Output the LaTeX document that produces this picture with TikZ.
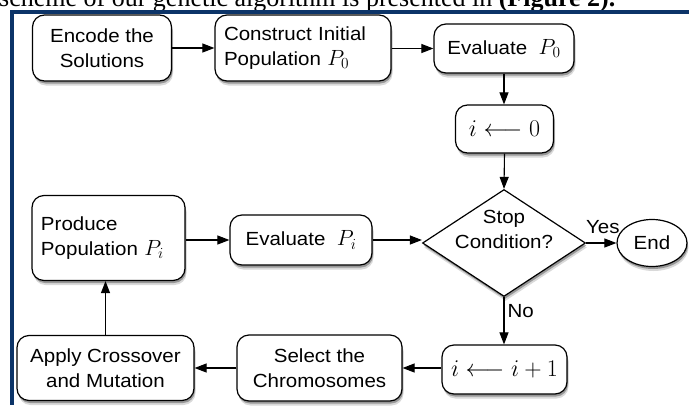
\RequirePackage{fix-cm}
\documentclass[tikz,border=0pt]{standalone}
\usepackage{fontspec}
\setmainfont[FakeStretch=1.08]{Liberation Sans}
\newfontfamily\serifx{Liberation Serif}
\usetikzlibrary{arrows.meta,shapes.geometric,shadows}
\definecolor{framblue}{RGB}{12,52,104}
\newcommand\bigmath[1]{{\fontsize{22}{25}\selectfont$#1$}}
\begin{document}
\begin{tikzpicture}[x=1pt,y=-1pt,
  nodefont/.style={font=\fontsize{19}{25}\selectfont},
  mathfont/.style={font=\fontsize{24}{28}\selectfont},
  shadowed/.style={drop shadow={shadow xshift=1.5pt,shadow yshift=-4.5pt,opacity=0.15,fill=black},
                   drop shadow={shadow xshift=1pt,shadow yshift=-2.5pt,opacity=0.3,fill=black}},
  box/.style={draw,line width=1.2pt,rounded corners=12pt,fill=white,shadowed,inner sep=0pt,align=center,nodefont},
  lbox/.style={box,align=left,inner xsep=9pt},
  arr/.style={line width=1.1pt,-{Triangle[length=12pt,width=9pt]}},
  lab/.style={nodefont,inner sep=0pt}
]
\useasboundingbox (0,0) rectangle (689,405);
\clip (0,0) rectangle (689,405);
\fill[white] (0,0) rectangle (689,405);

% caption remnant
\node[anchor=base west,inner sep=0pt,font=\serifx\fontsize{26}{30}\selectfont] (cap) at (-1,6.5)
  {scheme of our genetic algorithm is presented in \textbf{(Figure 2).}};

% frame
\fill[framblue] (10,10) rectangle (689,14);
\fill[framblue] (10,10) rectangle (14,405);

% nodes
\node[box,minimum width=139pt,minimum height=66pt] (enc) at (102,48) {Encode the\\Solutions};
\node[lbox,minimum width=176pt,minimum height=66pt,text width=158pt] (con) at (303,48) {Construct Initial\\Population \bigmath{P_0}};
\node[box,minimum width=140pt,minimum height=49pt] (ev0) at (504,48.5) {Evaluate \ \bigmath{P_0}};
\node[box,minimum width=98pt,minimum height=48pt,mathfont] (i0) at (504.5,129) {$i\longleftarrow 0$};
\node[diamond,draw,line width=1.2pt,fill=white,shadowed,inner sep=0pt,aspect=1.52,minimum width=163pt,minimum height=107pt] (stop) at (504,243) {};
\node[lab,align=center] (stoptxt) at (504,229) {Stop\\Condition?};
\node[ellipse,draw,line width=1.2pt,fill=white,shadowed,inner sep=0pt,minimum width=70pt,minimum height=47pt,nodefont] (end) at (652,243) {End};
\node[lbox,minimum width=153pt,minimum height=85pt,text width=135pt] (prod) at (108.5,238) {Produce\\Population \bigmath{P_i}};
\node[box,minimum width=142pt,minimum height=50pt] (evi) at (301,240) {Evaluate \ \bigmath{P_i}};
\node[box,minimum width=177pt,minimum height=65pt] (app) at (105.5,368) {Apply Crossover\\and Mutation};
\node[box,minimum width=165pt,minimum height=66pt] (sel) at (319.5,368) {Select the\\Chromosomes};
\node[box,minimum width=125pt,minimum height=49pt,mathfont] (inc) at (504.5,369.5) {$i\longleftarrow i+1$};

% connectors
\draw[arr] (enc) -- (con);
\draw[arr] (con.east |- ev0) -- (ev0.west);
\draw[arr] (ev0.south) -- (ev0.south |- i0.north);
\draw[arr] (i0.south) -- (stop.north);
\draw[arr] (prod.east |- evi) -- (evi.west);
\draw[arr] (evi.east) -- (evi.east -| stop.west);
\draw[arr] (stop.east) -- (end.west) node[lab,pos=0.55,above=9pt] (yes) {Yes};
\draw[arr] (stop.south) -- (inc.north -| stop.south) node[lab,pos=0.3,right=3pt] (no) {No};
\draw[arr] (inc.west |- sel) -- (sel.east);
\draw[arr] (sel.west) -- (app.east);
\draw[arr] (app.north) -- (app.north |- prod.south);
\end{tikzpicture}
\end{document}
